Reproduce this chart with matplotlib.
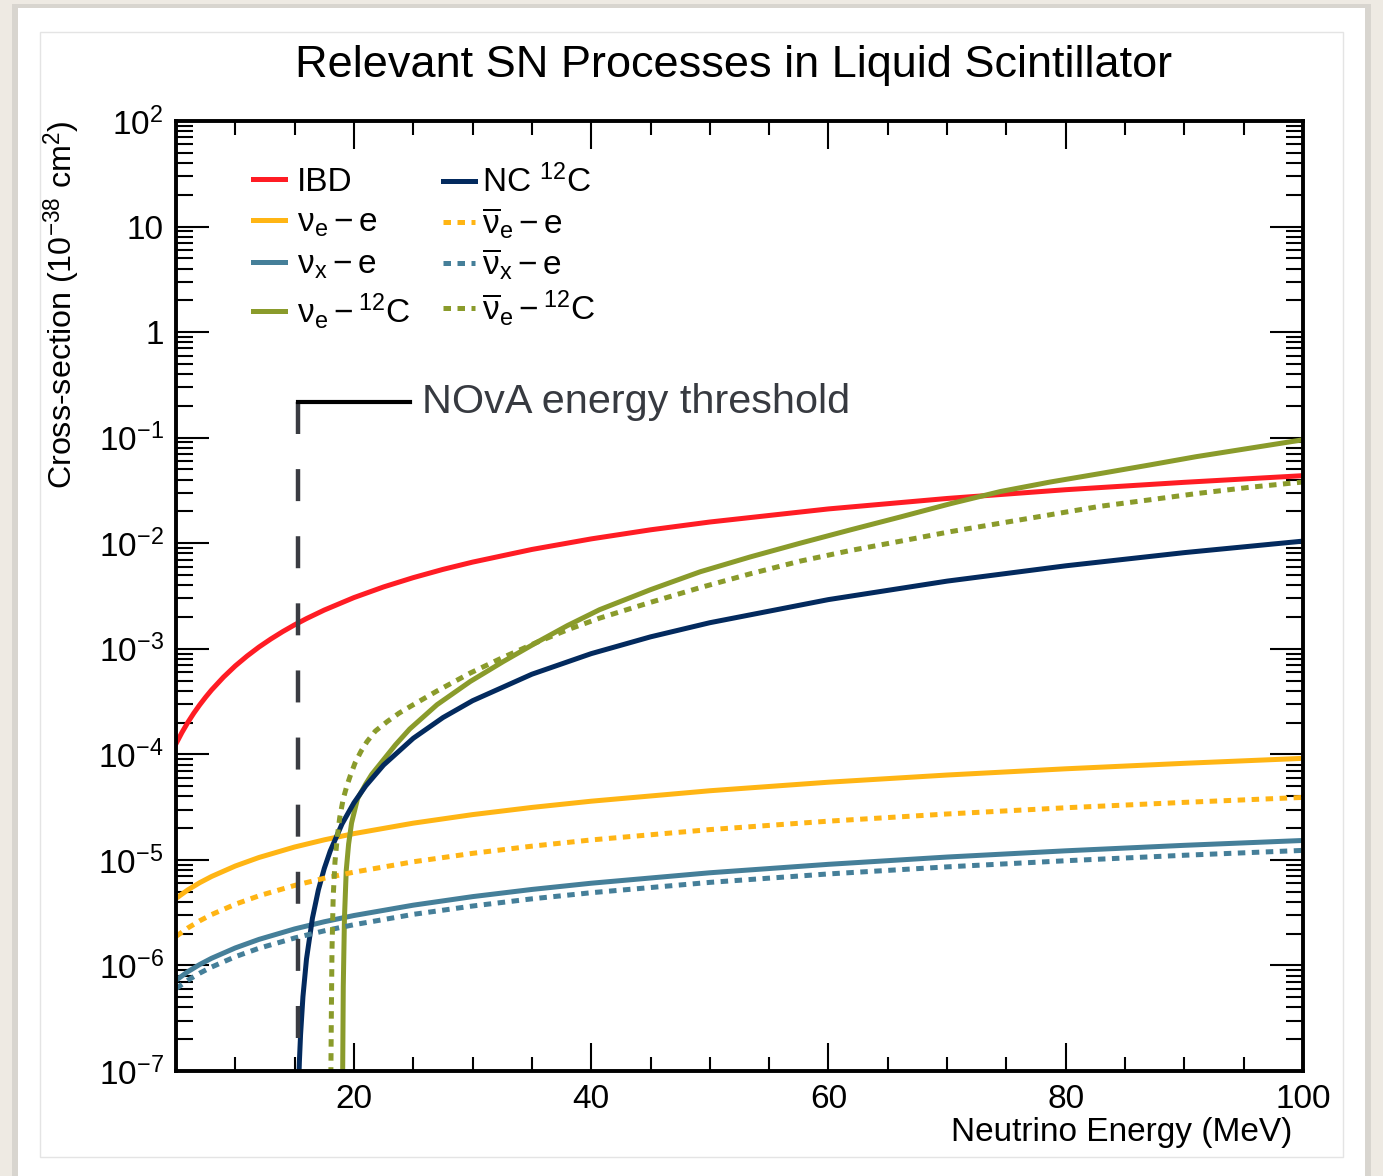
"""Relevant SN processes in liquid scintillator: cross-section vs neutrino energy."""

import numpy as np
import matplotlib
matplotlib.use("Agg")
import matplotlib.pyplot as plt
from matplotlib.patches import Rectangle
from matplotlib.ticker import MultipleLocator, FixedLocator, LogLocator, FuncFormatter, NullFormatter

plt.rcParams.update({
    "font.family": ["Liberation Sans", "DejaVu Sans"],
    "mathtext.fontset": "custom",
    "mathtext.rm": "Liberation Sans",
    "mathtext.it": "Liberation Sans:italic",
    "mathtext.bf": "Liberation Sans:bold",
    "mathtext.sf": "Liberation Sans",
})

# ---- data: energy in MeV,
# ---- log10 of the cross-section in units of 1e-38 cm^2 (read on the log axis)
E_IBD = [5, 5.5, 6, 6.5, 7, 7.5, 8, 9, 10, 11, 12, 13, 14, 15, 16, 17.5, 20, 22.5,
         25, 27.5, 30, 35, 40, 45, 50, 60, 70, 80, 90, 100]
LOG_IBD = [-3.900, -3.793, -3.697, -3.610, -3.531, -3.458, -3.390, -3.269, -3.162,
           -3.068, -2.983, -2.907, -2.837, -2.773, -2.714, -2.633, -2.515, -2.414,
           -2.326, -2.248, -2.179, -2.059, -1.959, -1.873, -1.799, -1.675, -1.576,
           -1.493, -1.423, -1.360]

E_ES = [5, 6, 7, 8, 10, 12, 15, 17.5, 20, 25, 30, 35, 40, 50, 60, 70, 80, 90, 100]
LOG_NUE_E = [-5.365, -5.284, -5.216, -5.157, -5.058, -4.977, -4.878, -4.810, -4.751,
             -4.652, -4.571, -4.503, -4.444, -4.345, -4.264, -4.196, -4.137, -4.085, -4.038]
LOG_NUEBAR_E = [-5.725, -5.645, -5.577, -5.518, -5.420, -5.340, -5.242, -5.174, -5.116,
                -5.018, -4.938, -4.870, -4.811, -4.713, -4.633, -4.565, -4.506, -4.455, -4.408]
LOG_NUX_E = [-6.140, -6.059, -5.991, -5.932, -5.834, -5.753, -5.654, -5.586, -5.527,
             -5.429, -5.348, -5.280, -5.221, -5.122, -5.042, -4.973, -4.914, -4.862, -4.816]
LOG_NUXBAR_E = [-6.220, -6.140, -6.073, -6.015, -5.917, -5.837, -5.740, -5.672, -5.614,
                -5.516, -5.437, -5.369, -5.311, -5.213, -5.133, -5.066, -5.008, -4.956, -4.910]

E_NC = [15.3, 15.4, 15.5, 15.7, 16.0, 16.5, 17, 17.5, 18, 19, 20, 21, 22.5, 25, 27.5,
        30, 35, 40, 45, 50, 60, 70, 80, 90, 100]
LOG_NC = [-7.280, -6.913, -6.656, -6.296, -5.939, -5.552, -5.285, -5.081, -4.916,
          -4.658, -4.459, -4.298, -4.101, -3.848, -3.652, -3.492, -3.241, -3.046,
          -2.887, -2.753, -2.534, -2.359, -2.214, -2.089, -1.980]

E_NUE_C = [19.02, 19.05, 19.1, 19.2, 19.35, 19.55, 19.8, 20.3, 21.0, 21.5, 22.5, 23.5,
           24.7, 27.0, 29.8, 32.6, 35.4, 38.0, 40.7, 45.0, 49.2, 53.4, 57.6, 61.8, 66.1,
           70.3, 74.5, 78.7, 82.9, 87.0, 91.0, 95.5, 100]
LOG_NUE_C = [-7.3, -7.0, -6.2, -5.55, -5.1, -4.85, -4.65, -4.42, -4.28, -4.19, -4.05,
             -3.91, -3.76, -3.53, -3.31, -3.12, -2.94, -2.78, -2.63, -2.44, -2.27, -2.13,
             -2.00, -1.875, -1.75, -1.625, -1.51, -1.42, -1.34, -1.26, -1.18, -1.10, -1.02]

E_NUEBAR_C = [18.02, 18.05, 18.1, 18.15, 18.25, 18.4, 18.6, 18.8, 19.1, 19.4, 19.7, 20.1,
              20.6, 21.1, 21.8, 22.8, 23.8, 24.7, 27.0, 29.8, 32.6, 35.4, 38.0, 40.7, 45.0,
              49.2, 53.4, 57.6, 61.8, 66.1, 70.3, 74.5, 78.7, 82.9, 87.0, 91.0, 95.5, 100]
LOG_NUEBAR_C = [-7.3, -7.1, -6.4, -5.85, -5.35, -5.02, -4.78, -4.60, -4.42, -4.30, -4.20,
                -4.08, -3.97, -3.88, -3.78, -3.69, -3.61, -3.55, -3.40, -3.23, -3.08, -2.94,
                -2.82, -2.71, -2.56, -2.42, -2.29, -2.17, -2.07, -1.98, -1.89, -1.81, -1.73,
                -1.65, -1.59, -1.53, -1.47, -1.42]

THRESHOLD_E = 15.3
THRESHOLD_TOP = 0.22
THRESHOLD_ARM_END = 24.7
THRESHOLD_TEXT_E = 25.7
Y_DECADES = [-7, -6, -5, -4, -3, -2, -1, 0, 1, 2]

RED = "#ff1c24"
ORANGE = "#ffb514"
TEAL = "#457f99"
OLIVE = "#8a9b2b"
NAVY = "#032a5e"

W, H = 1383, 1176

fig = plt.figure(figsize=(W / 100, H / 100), dpi=100)
fig.patch.set_facecolor("#eeeae3")


def px_rect(x0, y0, x1, y1, **kw):
    r = Rectangle((x0 / W, 1 - y1 / H), (x1 - x0) / W, (y1 - y0) / H,
                  transform=fig.transFigure, **kw)
    fig.add_artist(r)


# slide panel behind the plot
px_rect(12, 4, 1371, 1176, facecolor="#d8d5cf", edgecolor="none", zorder=-12)
px_rect(18, 8, 1365, 1176, facecolor="white", edgecolor="none", zorder=-11)
px_rect(40, 32, 1343, 1157, facecolor="white", edgecolor="#e4e4e4", lw=1, zorder=-10)

ax = fig.add_axes([176 / W, 1 - 1071 / H, 1127 / W, 950 / H])
ax.set_facecolor("none")


def xs(logs):
    return np.power(10.0, logs)


lw = 3.6
dot = (0, (1.5, 1.3))
h_ibd, = ax.plot(E_IBD, xs(LOG_IBD), color=RED, lw=lw, label="IBD")
h_nue, = ax.plot(E_ES, xs(LOG_NUE_E), color=ORANGE, lw=lw,
                 label=r"$\mathrm{\nu_{e}} - \mathrm{e}$")
h_nux, = ax.plot(E_ES, xs(LOG_NUX_E), color=TEAL, lw=lw,
                 label=r"$\mathrm{\nu_{x}} - \mathrm{e}$")
h_nuec, = ax.plot(E_NUE_C, xs(LOG_NUE_C), color=OLIVE, lw=lw,
                  label=r"$\mathrm{\nu_{e}} - {}^{12}\mathrm{C}$")
h_nc, = ax.plot(E_NC, xs(LOG_NC), color=NAVY, lw=lw, label=r"NC $^{12}$C")
h_nuebar, = ax.plot(E_ES, xs(LOG_NUEBAR_E), color=ORANGE, lw=lw, ls=dot,
                    dash_capstyle="butt",
                    label=r"$\overline{\mathrm{\nu}}_{\mathrm{e}} - \mathrm{e}$")
h_nuxbar, = ax.plot(E_ES, xs(LOG_NUXBAR_E), color=TEAL, lw=lw, ls=dot,
                    dash_capstyle="butt",
                    label=r"$\overline{\mathrm{\nu}}_{\mathrm{x}} - \mathrm{e}$")
h_nuebarc, = ax.plot(E_NUEBAR_C, xs(LOG_NUEBAR_C), color=OLIVE, lw=lw, ls=dot,
                     dash_capstyle="butt",
                     label=r"$\overline{\mathrm{\nu}}_{\mathrm{e}} - {}^{12}\mathrm{C}$")

# NOvA threshold marker (dashes start from the top corner)
ax.plot([THRESHOLD_E, THRESHOLD_E], [THRESHOLD_TOP, 1e-7], color="#3a3c42", lw=3.2,
        ls=(0, (7.2, 7.9)), dash_capstyle="butt")
ax.plot([THRESHOLD_E, THRESHOLD_ARM_END], [THRESHOLD_TOP, THRESHOLD_TOP], color="black", lw=3)
ax.text(THRESHOLD_TEXT_E, THRESHOLD_TOP, "NOvA energy threshold", fontsize=29.8,
        color="#373a40", va="center", ha="left")

ax.set_yscale("log")
ax.set_xlim(5, 100)
ax.set_ylim(1e-7, 1e2)

ax.xaxis.set_major_locator(MultipleLocator(20))
ax.xaxis.set_minor_locator(MultipleLocator(5))
ax.yaxis.set_major_locator(FixedLocator([10.0 ** d for d in Y_DECADES]))
ax.yaxis.set_minor_locator(LogLocator(base=10, subs=np.arange(2, 10), numticks=20))
ax.yaxis.set_minor_formatter(NullFormatter())


def ylab(v, pos):
    e = int(round(np.log10(v)))
    if e == 0:
        return "1"
    if e == 1:
        return "10"
    return r"$10^{%d}$" % e


ax.yaxis.set_major_formatter(FuncFormatter(ylab))

ax.tick_params(axis="x", which="major", direction="in", length=20, width=1.5,
               top=True, pad=9, labelsize=24)
ax.tick_params(axis="x", which="minor", direction="in", length=10, width=1.5, top=True)
ax.tick_params(axis="y", which="major", direction="in", length=24, width=1.5,
               right=True, pad=9, labelsize=24)
ax.tick_params(axis="y", which="minor", direction="in", length=12, width=1.5, right=True)
for s in ax.spines.values():
    s.set_linewidth(2.8)

fig.text(734 / W, 1 - 65 / H, "Relevant SN Processes in Liquid Scintillator",
         fontsize=32.5, ha="center", va="center")
fig.text(1292 / W, 1 - 1133 / H, "Neutrino Energy (MeV)", fontsize=24,
         ha="right", va="center")
fig.text(62 / W, 1 - 120 / H, r"Cross-section (10$^{-38}$ cm$^{2}$)", fontsize=23.2,
         rotation=90, ha="center", va="top")

common = dict(loc="upper left", frameon=False, fontsize=24, borderpad=0,
              borderaxespad=0, handlelength=0.96)
leg1 = ax.legend(handles=[h_ibd, h_nue, h_nux, h_nuec], bbox_to_anchor=(0.0683, 0.952),
                 handletextpad=0.36, labelspacing=0.31, **common)
ax.add_artist(leg1)
ax.legend(handles=[h_nc, h_nuebar, h_nuxbar, h_nuebarc], bbox_to_anchor=(0.2369, 0.954),
          handletextpad=0.22, labelspacing=0.18, **common)

fig.savefig("out.png", dpi=100, facecolor=fig.get_facecolor())
